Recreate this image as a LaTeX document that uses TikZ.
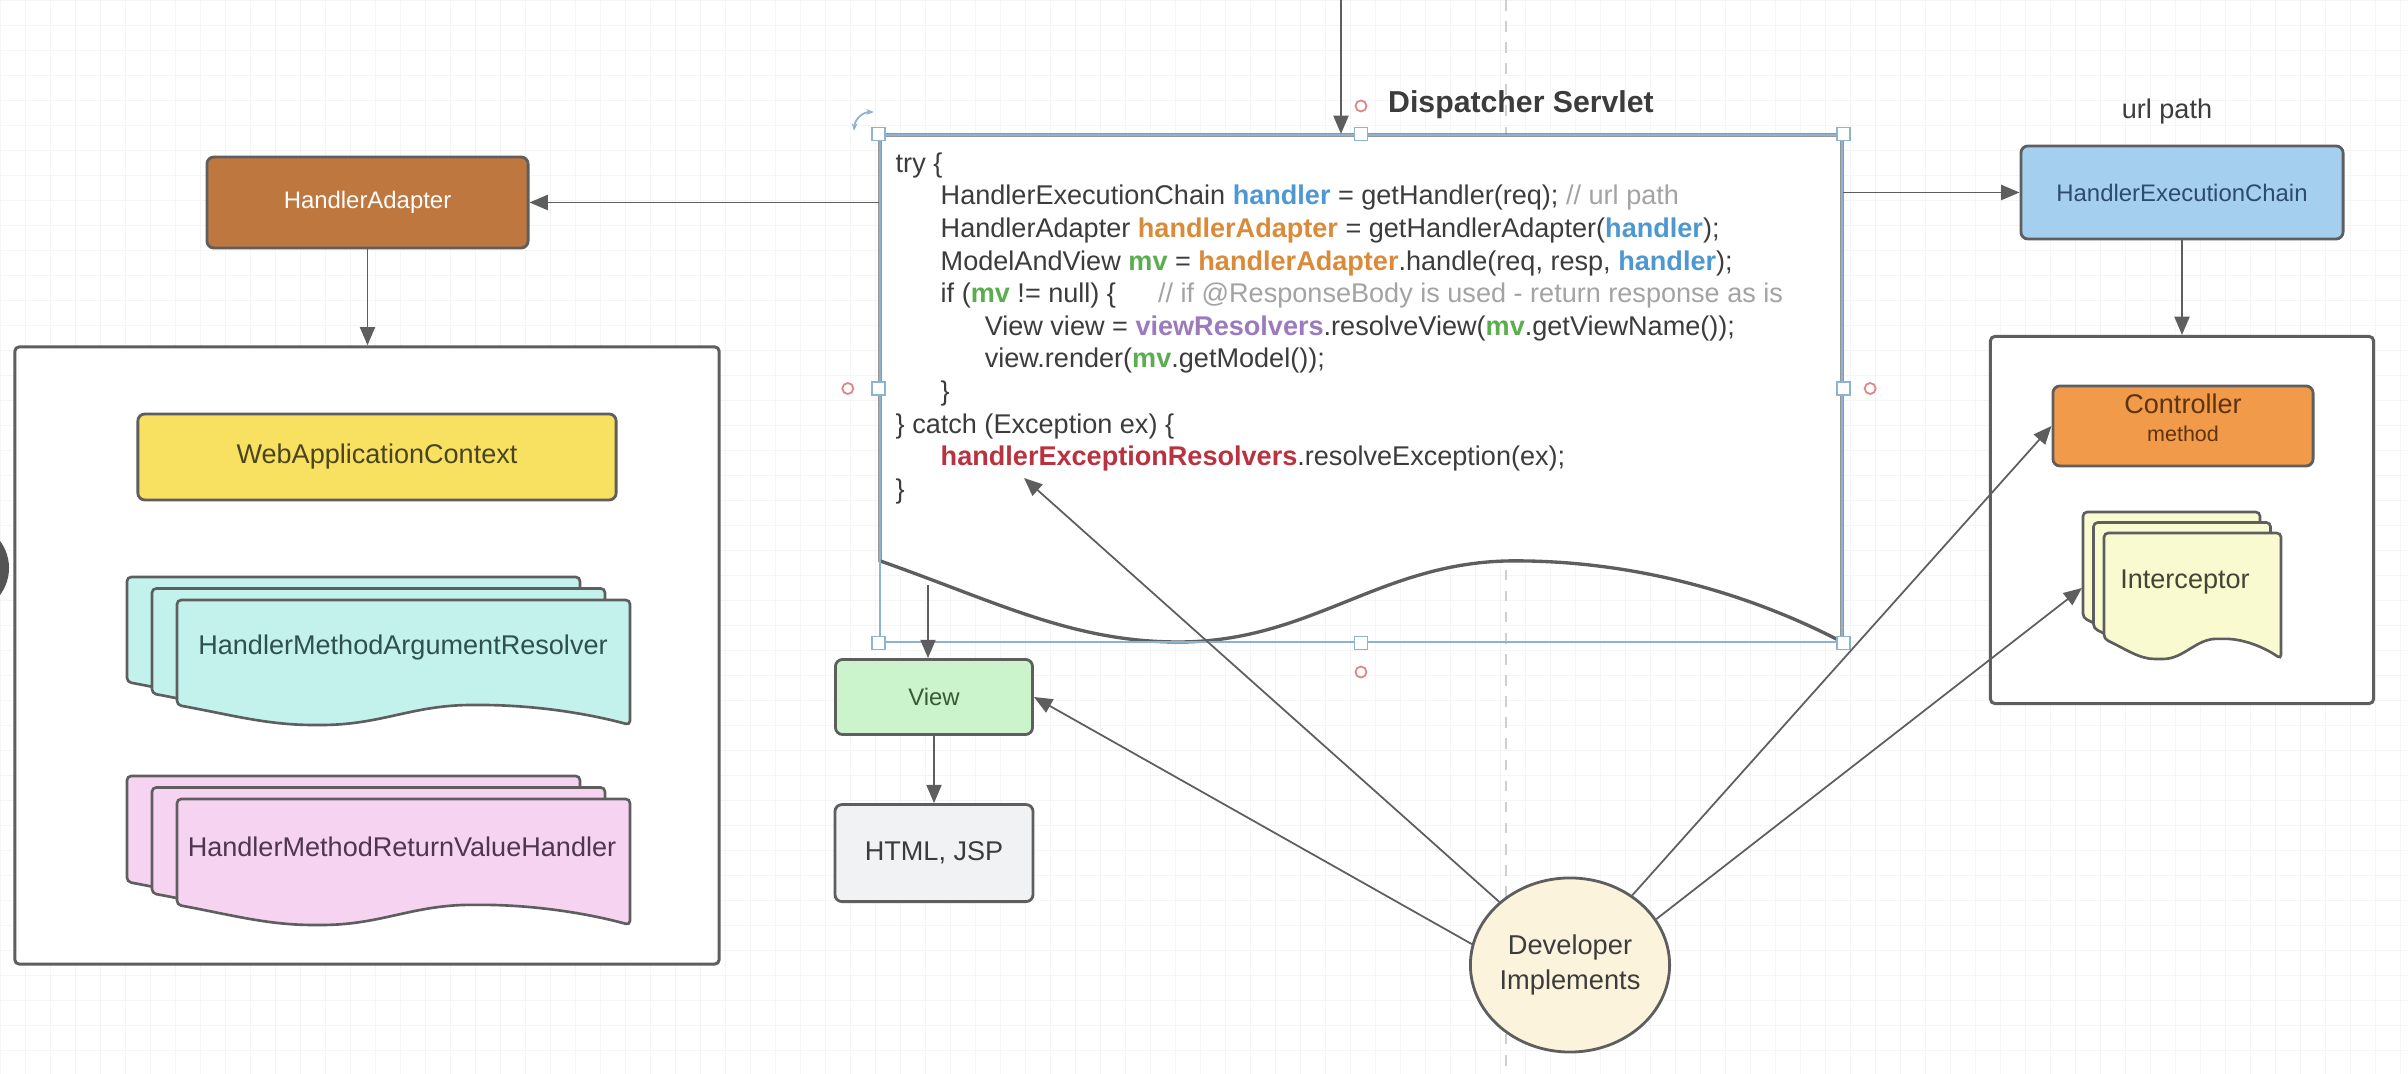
\documentclass[tikz,border=0pt]{standalone}
\usepackage{fontspec}
\setmainfont{Liberation Sans}
\usetikzlibrary{arrows.meta,shapes.geometric,positioning}

\definecolor{edge}{HTML}{5E5E5E}
\definecolor{txt}{HTML}{3C3C3C}
\definecolor{gridc}{HTML}{F5F5F5}
\definecolor{guide}{HTML}{CFCFCF}
\definecolor{selblue}{HTML}{8DB3D3}
\definecolor{ringred}{HTML}{E08585}
\definecolor{uidark}{HTML}{555555}
\definecolor{hafill}{HTML}{BE773E}
\definecolor{wacfill}{HTML}{F8E160}
\definecolor{wactext}{HTML}{4A4520}
\definecolor{argfill}{HTML}{C3F2EC}
\definecolor{argtext}{HTML}{2F5050}
\definecolor{retfill}{HTML}{F6D4F1}
\definecolor{rettext}{HTML}{4F3550}
\definecolor{hecfill}{HTML}{A4CFEE}
\definecolor{hectext}{HTML}{2D4B6B}
\definecolor{ctrlfill}{HTML}{F09A4A}
\definecolor{ctrltext}{HTML}{5E3310}
\definecolor{icptfill}{HTML}{FAFAD0}
\definecolor{icpttext}{HTML}{454535}
\definecolor{viewfill}{HTML}{CCF4CC}
\definecolor{viewtext}{HTML}{355A35}
\definecolor{htmlfill}{HTML}{F1F2F4}
\definecolor{devfill}{HTML}{FCF3DC}
\definecolor{hndlblue}{HTML}{4E97D1}
\definecolor{hadporange}{HTML}{D98B3A}
\definecolor{mvgreen}{HTML}{5BAE4F}
\definecolor{vrespurple}{HTML}{9B7BBE}
\definecolor{eresred}{HTML}{B8323F}
\definecolor{cmntgrey}{HTML}{A3A3A3}

% coloured words of the code listing
\newcommand{\hndl}[1]{\textbf{\textcolor{hndlblue}{#1}}}
\newcommand{\hadp}[1]{\textbf{\textcolor{hadporange}{#1}}}
\newcommand{\mvar}[1]{\textbf{\textcolor{mvgreen}{#1}}}
\newcommand{\vres}[1]{\textbf{\textcolor{vrespurple}{#1}}}
\newcommand{\eres}[1]{\textbf{\textcolor{eresred}{#1}}}
\newcommand{\cmnt}[1]{\textcolor{cmntgrey}{#1}}

% one document sheet with a wavy bottom: [style]{left}{top}{width}{height}
\newcommand{\docsheet}[5][]{%
  \filldraw[sheet,#1] ({#2},{#3}) -- ({#2+#4},{#3}) -- ({#2+#4},{#3+#5})
    .. controls ({#2+0.92*#4},{#3+0.92*#5}) and ({#2+0.80*#4},{#3+0.84*#5}) .. ({#2+0.66*#4},{#3+0.84*#5})
    .. controls ({#2+0.52*#4},{#3+0.84*#5}) and ({#2+0.45*#4},{#3+#5}) .. ({#2+0.31*#4},{#3+#5})
    .. controls ({#2+0.20*#4},{#3+#5}) and ({#2+0.12*#4},{#3+0.92*#5}) .. ({#2},{#3+0.84*#5}) -- cycle;}

\tikzset{
  box/.style={draw=edge, line width=0.8pt, rounded corners=2pt, inner sep=0pt},
  frame/.style={draw=edge, line width=0.85pt, rounded corners=1.3pt, fill=white, inner sep=0pt},
  sheet/.style={draw=edge, line width=0.75pt, rounded corners=1.2pt},
  arr/.style={draw=edge, line width=0.5pt, -{Triangle[length=5.2pt,width=4.3pt]}},
  lbl/.style={font=\fontsize{7.7}{9.5}\selectfont},
  lbls/.style={font=\fontsize{6.8}{8}\selectfont},
  codetext/.style={font=\fontsize{7.7}{9.27}\selectfont, text=txt, align=left, inner sep=0pt},
  handle/.style={draw=selblue, fill=white, line width=0.5pt, minimum size=0.13cm, inner sep=0pt},
  ring/.style={circle, draw=ringred, line width=0.5pt, minimum size=0.11cm, inner sep=0pt},
  gridline/.style={draw=gridc, line width=0.25pt}
}

\begin{document}
\begin{tikzpicture}[x=0.01cm, y=-0.01cm]
  \useasboundingbox (0,0) rectangle (2408,1074);
  \fill[white] (0,0) rectangle (2408,1074);

  % canvas grid and guide
  \foreach \gx in {0,25,...,2400} \draw[gridline] (\gx,0) -- (\gx,1074);
  \foreach \gy in {0,25,...,1075} \draw[gridline] (0,\gy) -- (2408,\gy);
  \draw[guide, line width=0.4pt, dash pattern=on 3pt off 3pt] (1506,0) -- (1506,1074);
  \fill[uidark] (-36,568) circle[radius=0.45cm];

  % left part
  \node[box, fill=hafill, text=white, lbls, minimum width=3.21cm, minimum height=0.91cm] (ha) at (367.5,202.5) {HandlerAdapter};
  \node[frame, minimum width=7.04cm, minimum height=6.17cm] (lbox) at (367,655.5) {};
  \node[box, fill=wacfill, text=wactext, lbl, minimum width=4.78cm, minimum height=0.86cm] (wac) at (377,457) {WebApplicationContext};

  \foreach \sh in {0,1,2} \docsheet[fill=argfill]{127+25*\sh}{577+11.5*\sh}{453}{125};
  \node[lbl, text=argtext] (hmar) at (403,648) {HandlerMethodArgumentResolver};
  \foreach \sh in {0,1,2} \docsheet[fill=retfill]{127+25*\sh}{776+11.5*\sh}{453}{126};
  \node[lbl, text=rettext] (hmrvh) at (402,847) {HandlerMethodReturnValueHandler};

  % right part
  \node[box, fill=hecfill, text=hectext, lbls, minimum width=3.22cm, minimum height=0.93cm] (hec) at (2182,192.5) {HandlerExecutionChain};
  \node[lbl, text=txt] (url) at (2167,112) {url path};
  \node[frame, minimum width=3.83cm, minimum height=3.67cm] (rbox) at (2182,520) {};
  \node[box, fill=ctrlfill, text=ctrltext, lbl, align=center, minimum width=2.6cm, minimum height=0.8cm] (ctrl) at (2183,426)
    {Controller\\[-1.5pt]{\fontsize{6.1}{7}\selectfont method}\\[-5pt]\mbox{}};
  \foreach \sh in {0,1,2} \docsheet[fill=icptfill]{2083+10.5*\sh}{512+10.5*\sh}{177}{126};
  \node[lbl, text=icpttext] (icpt) at (2185,582) {Interceptor};

  % view side
  \node[box, fill=viewfill, text=viewtext, lbls, minimum width=1.97cm, minimum height=0.75cm] (view) at (934,697) {View};
  \node[box, fill=htmlfill, text=txt, lbl, minimum width=1.98cm, minimum height=0.97cm, below of=view, node distance=1.56cm] (html) {HTML, JSP};
  \node[ellipse, draw=edge, line width=0.8pt, fill=devfill, text=txt, align=center, inner sep=0pt,
        minimum width=1.98cm, minimum height=1.74cm, font=\fontsize{7.75}{9.7}\selectfont] (dev) at (1570,965) {Developer\\Implements};

  % dispatcher servlet
  \docsheet[fill=white, line width=0.95pt, rounded corners=0pt]{880}{135}{962}{507};
  \node[codetext, anchor=north west] (code) at (895,152) {%
    try \{\\
    \hspace*{0.45cm}HandlerExecutionChain \hndl{handler} = getHandler(req); \cmnt{// url path}\\
    \hspace*{0.45cm}HandlerAdapter \hadp{handlerAdapter} = getHandlerAdapter(\hndl{handler});\\
    \hspace*{0.45cm}ModelAndView \mvar{mv} = \hadp{handlerAdapter}.handle(req, resp, \hndl{handler});\\
    \hspace*{0.45cm}if (\mvar{mv} != null) \{\hspace{0.42cm}\cmnt{// if @ResponseBody is used - return response as is}\\
    \hspace*{0.89cm}View view = \vres{viewResolvers}.resolveView(\mvar{mv}.getViewName());\\
    \hspace*{0.89cm}view.render(\mvar{mv}.getModel());\\
    \hspace*{0.45cm}\}\\
    \} catch (Exception ex) \{\\
    \hspace*{0.45cm}\eres{handlerExceptionResolvers}.resolveException(ex);\\
    \}};
  \node[font=\fontsize{8.6}{10}\selectfont\bfseries, text=txt] (dstitle) at (1521,105) {Dispatcher Servlet};

  % selection marks
  \node[draw=selblue, line width=0.5pt, minimum width=9.62cm, minimum height=5.07cm, inner sep=0pt] (ds) at (1361,388.5) {};
  \foreach \a in {north west,north,north east,west,east,south west,south,south east}
    \node[handle] at (ds.\a) {};
  \node[ring] at ([yshift=0.28cm]ds.north) {};
  \node[ring] at ([yshift=-0.29cm]ds.south) {};
  \node[ring] at ([xshift=-0.31cm]ds.west) {};
  \node[ring] at ([xshift=0.27cm]ds.east) {};
  \draw[selblue, line width=0.5pt, {Stealth[length=2.2pt]}-{Stealth[length=2.2pt]}] (854,131) .. controls (855,118) and (864,112) .. (874,112);

  % connectors
  \coordinate (entry) at (1341,-10);
  \coordinate (wv) at (928,585);
  \coordinate (exc) at (1024,478);
  \coordinate (icptin) at (2082,588);

  \draw[arr] (entry) -- (entry |- ds.north);
  \draw[arr] (ds.west |- ha.east) -- (ha.east);
  \draw[arr] (ds.east |- hec.west) -- (hec.west);
  \draw[arr] (ha) -- (ha |- lbox.north);
  \draw[arr] (hec) -- (hec |- rbox.north);
  \draw[arr] (wv) -- (wv |- view.north);
  \draw[arr] (view) -- (html);

  \draw[arr] (dev.168) -- (view.east);
  \draw[arr] (dev) -- (exc);
  \draw[arr] (dev) -- (ctrl.west);
  \draw[arr] (dev.28) -- (icptin);

\end{tikzpicture}
\end{document}
